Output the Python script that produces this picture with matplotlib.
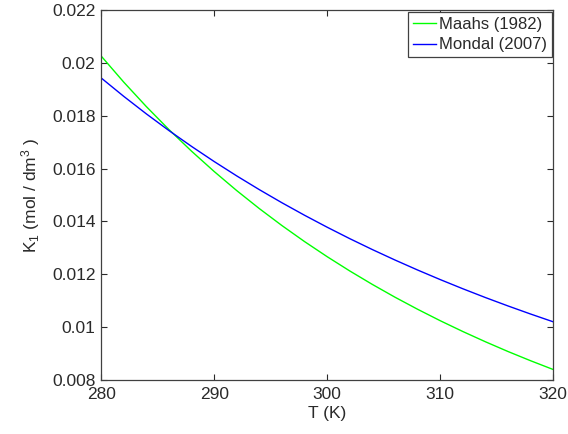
import matplotlib
matplotlib.use("Agg")
import matplotlib.pyplot as plt

T = [280, 282, 284, 286, 288, 290, 292, 294, 296, 298, 300,
     302, 304, 306, 308, 310, 312, 314, 316, 318, 320]
maahs = [0.02026, 0.019272, 0.018346, 0.017476, 0.016658, 0.015890, 0.015166,
         0.014485, 0.013843, 0.013237, 0.012666, 0.012126, 0.011616, 0.011133,
         0.010677, 0.010244, 0.009835, 0.009447, 0.009078, 0.008729, 0.008397]
mondal = [0.01943, 0.018733, 0.018070, 0.017439, 0.016839, 0.016267, 0.015722,
          0.015202, 0.014706, 0.014233, 0.013781, 0.013348, 0.012935, 0.012540,
          0.012162, 0.011800, 0.011453, 0.011120, 0.010802, 0.010496, 0.010202]
xticks = [280, 290, 300, 310, 320]
yticks = [0.008, 0.01, 0.012, 0.014, 0.016, 0.018, 0.02, 0.022]
yticklabels = ["0.008", "0.01", "0.012", "0.014", "0.016", "0.018", "0.02", "0.022"]

plt.rcParams['font.family'] = ['Liberation Sans', 'DejaVu Sans']
plt.rcParams['mathtext.fontset'] = 'custom'
plt.rcParams['mathtext.rm'] = 'Liberation Sans'
plt.rcParams['mathtext.it'] = 'Liberation Sans'
txt = '#2a2a2a'
fs = 12.5

fig = plt.figure(figsize=(5.68, 4.34), dpi=100)
ax = fig.add_axes([0.178, 0.1244, 0.796, 0.8526])
ax.plot(T, maahs, color='#00ff00', lw=1.0, label='Maahs (1982)')
ax.plot(T, mondal, color='#0000ff', lw=1.0, label='Mondal (2007)')
ax.set_xlim(280, 320)
ax.set_ylim(0.008, 0.022)
ax.set_xticks(xticks)
ax.set_xticklabels([str(x) for x in xticks])
ax.set_yticks(yticks)
ax.set_yticklabels(yticklabels)
ax.tick_params(direction='in', length=4, width=0.8, top=True, right=True,
               labelsize=fs, colors=txt, pad=4)
ax.tick_params(axis='x', pad=5)
for s in ax.spines.values():
    s.set_color('#404040')
    s.set_linewidth(0.9)
ax.set_xlabel('T (K)', fontsize=fs, color=txt, labelpad=3)
ax.set_ylabel(r'K$_\mathrm{1}$ (mol / dm$^\mathrm{3}$ )', fontsize=fs, color=txt, labelpad=7)
leg = ax.legend(loc='upper right', fontsize=12, handlelength=1.4, handletextpad=0.15,
                borderpad=0.3, labelspacing=0.35, fancybox=False, framealpha=1,
                borderaxespad=0.1)
leg.get_frame().set_edgecolor('#404040')
leg.get_frame().set_linewidth(0.9)
for t in leg.get_texts():
    t.set_color(txt)
fig.savefig('out.png', dpi=100)
